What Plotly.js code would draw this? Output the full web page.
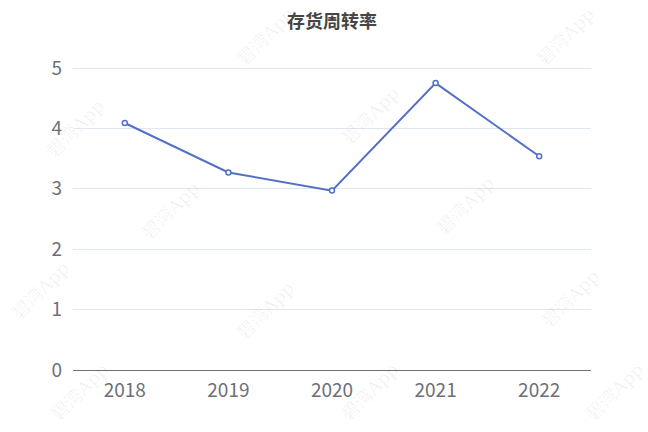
<!DOCTYPE html>
<html>
<head>
<meta charset="utf-8">
<script src="https://cdn.plot.ly/plotly-3.0.1.min.js"></script>
<style>
  html, body { margin: 0; padding: 0; background: #fff; }
  #chart { width: 648px; height: 432px; }
</style>
</head>
<body>
<div id="chart"></div>
<script>
const years = ["2018", "2019", "2020", "2021", "2022"];
const turnover = [4.09, 3.27, 2.97, 4.75, 3.54];
const yTicks = [0, 1, 2, 3, 4, 5];

const chartDiv = document.getElementById("chart");

// plot box in pixels; y range is padded a little so the "5" gridline is drawn
const yMax = 5.05;
const plotLeft = 73;
const plotRight = 591;
const plotBottom = 370;
const plotTop = plotBottom - 302 * yMax / 5;

// faint repeated watermark like the source screenshot (pixel centres)
const markText = "碧湾App";
const markPx = [
  [265, 36], [565, 36],
  [75, 128], [370, 115],
  [170, 210], [465, 205],
  [40, 290], [265, 310], [570, 298],
  [80, 392], [370, 392], [615, 392],
];

const watermarks = markPx.map(([px, py]) => ({
  text: markText,
  xref: "paper",
  yref: "paper",
  x: (px - plotLeft) / (plotRight - plotLeft),
  y: (plotBottom - py) / (plotBottom - plotTop),
  xanchor: "center",
  yanchor: "middle",
  showarrow: false,
  textangle: -45,
  font: { family: "DejaVu Serif, Noto Sans CJK SC", size: 18, color: "rgba(0,0,0,0.06)" },
}));

const data = [
  {
    x: years,
    y: turnover,
    type: "scatter",
    mode: "lines+markers",
    line: { color: "#5470c6", width: 2 },
    marker: {
      symbol: "circle",
      size: 5,
      color: "#ffffff",
      line: { color: "#5470c6", width: 1.5 },
    },
    hoverinfo: "x+y",
    cliponaxis: false,
  },
];

const layout = {
  width: 648,
  height: 432,
  margin: { l: plotLeft, r: 648 - plotRight, t: plotTop, b: 432 - plotBottom },
  paper_bgcolor: "#ffffff",
  plot_bgcolor: "#ffffff",
  showlegend: false,
  title: {
    text: "<b>存货周转率</b>",
    xref: "paper",
    x: 0.5,
    xanchor: "center",
    yref: "container",
    y: 0.95,
    yanchor: "middle",
    font: { family: "Noto Sans CJK SC", size: 18, color: "#464646" },
  },
  xaxis: {
    type: "category",
    range: [-0.5, 4.5],
    showgrid: false,
    zeroline: false,
    showline: true,
    linecolor: "#6e7079",
    linewidth: 1,
    ticks: "",
    ticklabelstandoff: 3,
    tickfont: { family: "Noto Sans CJK SC", size: 19, color: "#6e7079" },
  },
  yaxis: {
    range: [0, yMax],
    tickvals: yTicks,
    showgrid: true,
    gridcolor: "#e0e6f1",
    gridwidth: 1,
    zeroline: false,
    showline: false,
    ticks: "",
    ticklabelstandoff: 10,
    tickfont: { family: "Noto Sans CJK SC", size: 19, color: "#6e7079" },
  },
  annotations: watermarks,
};

Plotly.newPlot(chartDiv, data, layout, { displayModeBar: false, staticPlot: true });
</script>
</body>
</html>
